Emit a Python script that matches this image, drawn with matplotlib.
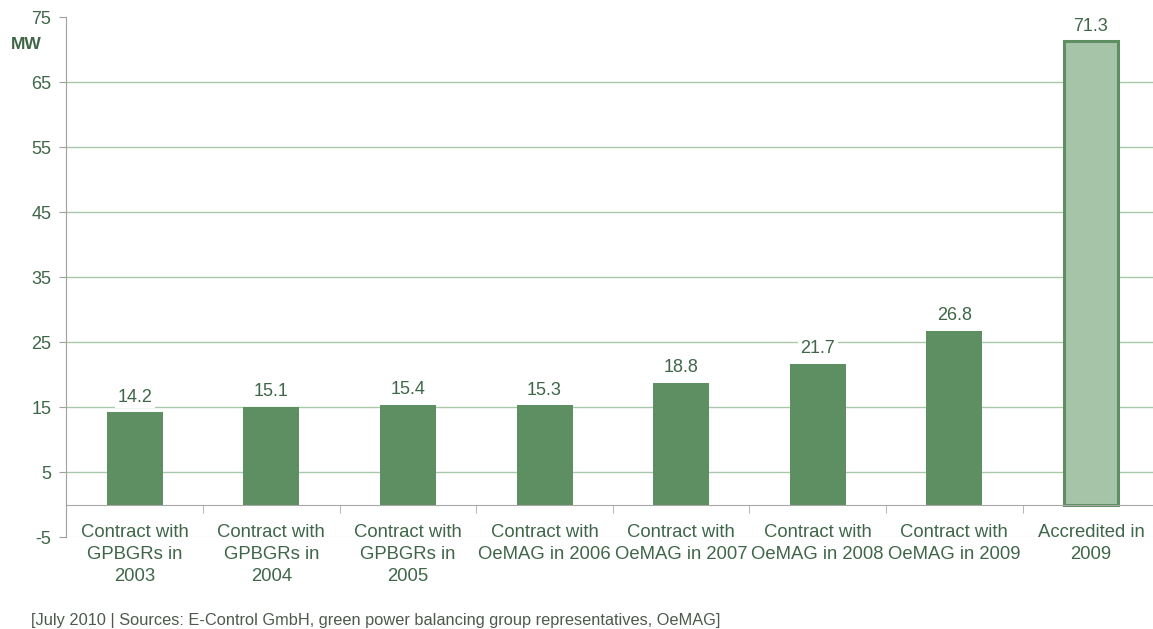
import matplotlib.pyplot as plt
import numpy as np

categories = [
    "Contract with\nGPBGRs in\n2003",
    "Contract with\nGPBGRs in\n2004",
    "Contract with\nGPBGRs in\n2005",
    "Contract with\nOeMAG in 2006",
    "Contract with\nOeMAG in 2007",
    "Contract with\nOeMAG in 2008",
    "Contract with\nOeMAG in 2009",
    "Accredited in\n2009",
]
values = [14.2, 15.1, 15.4, 15.3, 18.8, 21.7, 26.8, 71.3]
yticks = [-5, 5, 15, 25, 35, 45, 55, 65, 75]

dark = "#5e8f63"
light = "#a6c4a8"
txt = "#3f6648"

plt.rcParams['font.family'] = ['Liberation Sans', 'DejaVu Sans']
plt.rcParams['axes.unicode_minus'] = False

fig = plt.figure(figsize=(11.53, 6.29), dpi=100)
ax = fig.add_axes([0.0576, 0.1458, 0.9478, 0.8267])

x = np.arange(len(values))
colors = [dark] * (len(values) - 1) + [light]
bars = ax.bar(x, values, width=0.41, color=colors, zorder=3)
bars[-1].set_edgecolor(dark)
bars[-1].set_linewidth(2.2)
bars[-1].set_width(0.4)
bars[-1].set_x(x[-1] - 0.2)

for xi, v in zip(x, values):
    ax.annotate(f"{v:.1f}", (xi, v), xytext=(0, 11), textcoords="offset points",
                ha="center", va="center", fontsize=13, color=txt, zorder=4,
                bbox=dict(boxstyle="square,pad=0.15", fc="white", ec="none"))

ax.set_xlim(-0.5, len(values) - 0.5)
ax.set_ylim(-5, 75)
ax.set_yticks(yticks)
ax.tick_params(axis='y', length=5, color="#a0a0a0", labelsize=13, labelcolor=txt, pad=6)

for t in yticks[1:-1]:
    ax.axhline(t, color="#a9c8a9", lw=1, zorder=1)
ax.axhline(-5, color="#ececec", lw=1, zorder=1)

ax.spines['top'].set_visible(False)
ax.spines['right'].set_visible(False)
ax.spines['left'].set_color("#a0a0a0")
ax.spines['bottom'].set_position(('data', 0))
ax.spines['bottom'].set_color("#a8a8a8")
ax.spines['bottom'].set_zorder(4)

ax.set_xticks(x)
ax.set_xticklabels(categories, fontsize=13.3, color=txt, linespacing=1.38)
ax.tick_params(axis='x', length=0, pad=14)
ax.set_xticks(np.arange(0.5, len(values) - 0.5, 1), minor=True)
ax.tick_params(axis='x', which='minor', length=6, color="#a8a8a8", direction='out')

fig.text(0.0225, 0.929, "MW", fontsize=12.5, fontweight='bold', color=txt, ha='center', va='center')
fig.text(0.027, 0.0143, "[July 2010 | Sources: E-Control GmbH, green power balancing group representatives, OeMAG]",
         fontsize=11.8, color="#4d5a4d", ha='left', va='center')

fig.savefig("out.png", dpi=100)
